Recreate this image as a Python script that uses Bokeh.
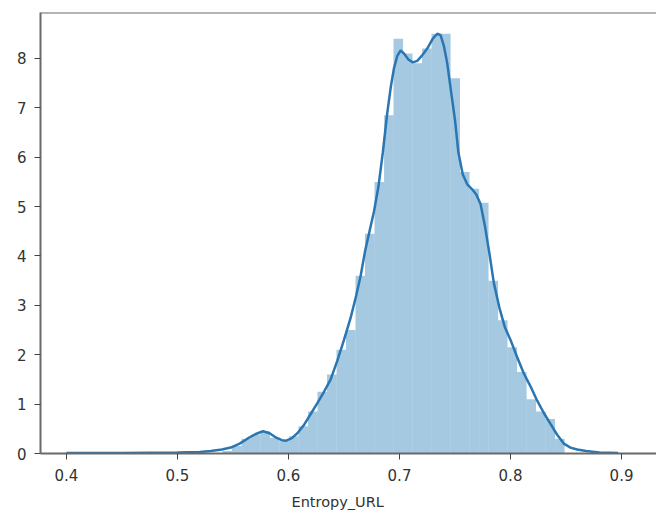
from bokeh.plotting import figure
from bokeh.models import Range1d, FixedTicker, Span, ColumnDataSource, Title
from bokeh.embed import file_html
from bokeh.resources import INLINE

# histogram bin edges and densities
bin_edges = [0.5405, 0.5491, 0.5577, 0.5662, 0.5748, 0.5833, 0.5919, 0.6005, 0.6090,
             0.6176, 0.6261, 0.6347, 0.6433, 0.6518, 0.6604, 0.6689, 0.6775, 0.6861,
             0.6946, 0.7032, 0.7117, 0.7203, 0.7289, 0.7374, 0.7460, 0.7545, 0.7631,
             0.7717, 0.7802, 0.7888, 0.7973, 0.8059, 0.8145, 0.8230, 0.8316, 0.8401,
             0.8487]
bin_density = [0.05, 0.15, 0.30, 0.38, 0.45, 0.32, 0.25, 0.35, 0.55, 0.85, 1.25, 1.60,
               2.10, 2.50, 3.60, 4.45, 5.50, 6.85, 8.40, 8.10, 7.90, 8.20, 8.50, 8.50,
               7.60, 5.70, 5.36, 5.08, 3.50, 2.70, 2.15, 1.65, 1.10, 0.85, 0.70, 0.30]

# KDE curve
kde_x = [0.400, 0.450, 0.500, 0.520, 0.530, 0.540, 0.548, 0.556, 0.563, 0.570, 0.577,
         0.583, 0.589, 0.594, 0.598, 0.603, 0.608, 0.614, 0.620, 0.626, 0.632, 0.638,
         0.644, 0.650, 0.656, 0.661, 0.665, 0.669, 0.673, 0.677, 0.681, 0.685, 0.689,
         0.692, 0.695, 0.698, 0.701, 0.704, 0.708, 0.712, 0.716, 0.720, 0.725, 0.730,
         0.734, 0.737, 0.740, 0.743, 0.746, 0.750, 0.753, 0.757, 0.761, 0.765, 0.769,
         0.773, 0.777, 0.781, 0.785, 0.790, 0.795, 0.800, 0.806, 0.812, 0.818, 0.824,
         0.830, 0.836, 0.842, 0.848, 0.854, 0.860, 0.868, 0.880, 0.897]
kde_y = [0.01, 0.01, 0.02, 0.03, 0.05, 0.08, 0.12, 0.20, 0.30, 0.39, 0.45,
         0.41, 0.32, 0.27, 0.26, 0.31, 0.41, 0.58, 0.80, 1.02, 1.25, 1.50,
         1.88, 2.30, 2.75, 3.20, 3.60, 4.10, 4.50, 4.90, 5.40, 6.10, 6.90,
         7.40, 7.80, 8.05, 8.16, 8.10, 7.98, 7.92, 7.95, 8.05, 8.20, 8.40,
         8.50, 8.47, 8.25, 7.90, 7.40, 6.75, 6.10, 5.65, 5.45, 5.36, 5.25,
         5.05, 4.60, 4.05, 3.45, 2.95, 2.55, 2.30, 1.95, 1.62, 1.36, 1.07,
         0.82, 0.60, 0.38, 0.20, 0.12, 0.08, 0.05, 0.02, 0.01]

x_ticks = [0.4, 0.5, 0.6, 0.7, 0.8, 0.9]
y_ticks = [0, 1, 2, 3, 4, 5, 6, 7, 8]
x_label = "Entropy_URL"

Y_TOP = 8.93

p = figure(width=656, height=519, output_backend="svg", toolbar_location=None,
           x_range=Range1d(0.3766, 0.9315), y_range=Range1d(0, Y_TOP),
           min_border_left=40, min_border_top=12, min_border_right=0, min_border_bottom=66)

p.outline_line_color = None
p.grid.visible = False
p.background_fill_color = "white"

src = ColumnDataSource(dict(left=bin_edges[:-1], right=bin_edges[1:],
                            top=bin_density, bottom=[0] * len(bin_density)))
p.quad(left="left", right="right", top="top", bottom="bottom", source=src,
       fill_color="#1f77b4", fill_alpha=0.4, line_color=None)
p.line(kde_x, kde_y, line_color="#2a76b3", line_width=2.5)

p.add_layout(Span(location=Y_TOP, dimension="width", line_color="#6a6a6a", line_width=2))

for ax in (p.xaxis[0], p.yaxis[0]):
    ax.axis_line_color = "#6a6a6a"
    ax.axis_line_width = 2
    ax.major_tick_line_color = "#444444"
    ax.major_tick_line_width = 1
    ax.major_tick_out = 6
    ax.major_tick_in = 0
    ax.minor_tick_line_color = None
    ax.major_label_text_font = "DejaVu Sans"
    ax.major_label_text_font_size = "15px"
    ax.major_label_text_color = "#333333"

p.xaxis.ticker = FixedTicker(ticks=x_ticks)
p.yaxis.ticker = FixedTicker(ticks=y_ticks)
p.xaxis.major_label_overrides = {t: f"{t:.1f}" for t in x_ticks}
p.yaxis.major_label_overrides = {t: str(t) for t in y_ticks}
p.xaxis.major_label_standoff = 9
p.yaxis.major_label_standoff = 8

# axis title, placed where the original axes centre was
p.add_layout(Title(text=x_label, align="left", offset=251, standoff=16,
                   text_font="DejaVu Sans", text_font_size="14.5px",
                   text_font_style="normal", text_color="#333333"), "below")

open("out.html", "w").write(file_html(p, INLINE))
